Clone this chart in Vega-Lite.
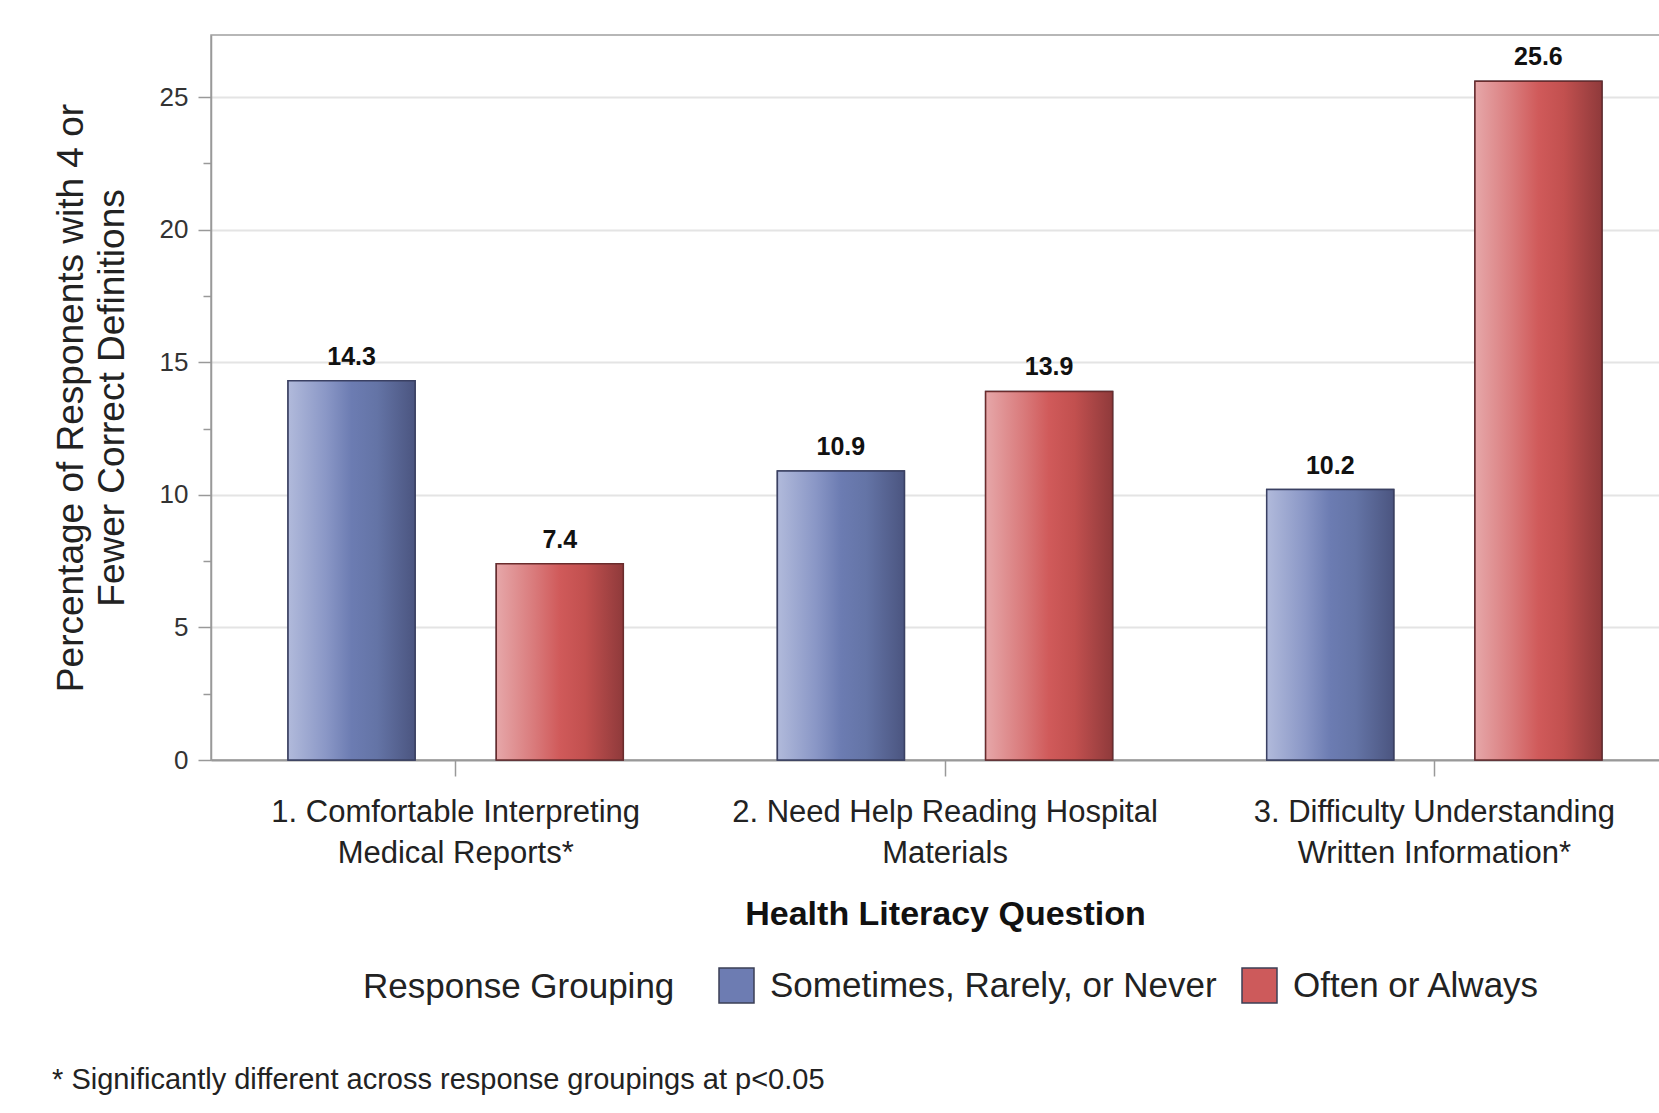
{
  "$schema": "https://vega.github.io/schema/vega-lite/v6.json",
  "width": 1468,
  "height": 725,
  "autosize": {"type": "none"},
  "padding": {"left": 211, "top": 35, "right": -20, "bottom": 353},
  "background": "white",
  "config": {
    "font": "Liberation Sans",
    "view": {"stroke": "#a0a0a0", "strokeWidth": 1.5}
  },
  "data": {
    "values": [
      {"question": "1. Comfortable Interpreting|Medical Reports*", "group": "Sometimes, Rarely, or Never", "pct": 14.3},
      {"question": "1. Comfortable Interpreting|Medical Reports*", "group": "Often or Always", "pct": 7.4},
      {"question": "2. Need Help Reading Hospital|Materials", "group": "Sometimes, Rarely, or Never", "pct": 10.9},
      {"question": "2. Need Help Reading Hospital|Materials", "group": "Often or Always", "pct": 13.9},
      {"question": "3. Difficulty Understanding|Written Information*", "group": "Sometimes, Rarely, or Never", "pct": 10.2},
      {"question": "3. Difficulty Understanding|Written Information*", "group": "Often or Always", "pct": 25.6}
    ]
  },
  "title": {
    "text": "* Significantly different across response groupings at p<0.05",
    "orient": "bottom",
    "anchor": "start",
    "frame": "bounds",
    "fontSize": 29,
    "fontWeight": "normal",
    "color": "#222",
    "offset": 60
  },
  "encoding": {
    "x": {
      "field": "question",
      "type": "nominal",
      "sort": null,
      "scale": {"paddingInner": 0, "paddingOuter": 0},
      "axis": {
        "title": "Health Literacy Question",
        "labelAngle": 0,
        "labelExpr": "split(datum.label, '|')",
        "labelFontSize": 31,
        "labelLineHeight": 41,
        "labelColor": "#222",
        "labelPadding": 21,
        "labelLimit": 700,
        "tickSize": 16,
        "tickColor": "#999",
        "tickWidth": 1.5,
        "domainColor": "#999",
        "domainWidth": 2,
        "titleFontSize": 34,
        "titleFontWeight": "bold",
        "titleColor": "#111",
        "titlePadding": 29
      }
    },
    "xOffset": {
      "field": "group",
      "type": "nominal",
      "sort": ["Sometimes, Rarely, or Never", "Often or Always"],
      "scale": {"paddingInner": 0.39, "paddingOuter": 0.37}
    },
    "y": {
      "field": "pct",
      "type": "quantitative",
      "scale": {"domain": [0, 27.34], "nice": false, "zero": true},
      "axis": {
        "title": ["Percentage of Responents with 4 or", "Fewer Correct Definitions"],
        "values": [0, 2.5, 5, 7.5, 10, 12.5, 15, 17.5, 20, 22.5, 25],
        "labelExpr": "datum.value % 5 === 0 ? datum.label : ''",
        "labelFontSize": 26,
        "labelColor": "#333",
        "labelPadding": 10,
        "tickSize": {"condition": {"test": "datum.value % 5 === 0", "value": 13}, "value": 8},
        "tickColor": "#999",
        "tickWidth": 1.5,
        "domainColor": "#999",
        "domainWidth": 1.5,
        "grid": true,
        "gridColor": "#e4e4e4",
        "gridWidth": 2,
        "gridOpacity": {"condition": {"test": "datum.value % 5 === 0 && datum.value > 0", "value": 1}, "value": 0},
        "titleFontSize": 37,
        "titleFontWeight": "normal",
        "titleColor": "#222",
        "titleLineHeight": 41,
        "titlePadding": 28
      }
    }
  },
  "layer": [
    {
      "mark": {"type": "bar", "stroke": "#3b3f55", "strokeWidth": 1.5},
      "encoding": {
        "color": {
          "field": "group",
          "type": "nominal",
          "sort": ["Sometimes, Rarely, or Never", "Often or Always"],
          "scale": {"domain": ["Sometimes, Rarely, or Never", "Often or Always"], "range": ["#6d7cb2", "#cd5a5b"]},
          "legend": {
            "orient": "none",
            "legendX": 152,
            "legendY": 932,
            "direction": "horizontal",
            "title": "Response Grouping",
            "titleOrient": "left",
            "titleFontSize": 35,
            "titleFontWeight": "normal",
            "titleColor": "#222",
            "titlePadding": 43,
            "titleLimit": 600,
            "labelFontSize": 35,
            "labelColor": "#222",
            "labelOffset": 15,
            "labelLimit": 600,
            "symbolType": "square",
            "symbolSize": 1225,
            "symbolStrokeWidth": 1.5,
            "symbolStrokeColor": "#3b3f55",
            "columnPadding": 22
          }
        }
      }
    },
    {
      "mark": {"type": "bar", "strokeWidth": 1.5},
      "encoding": {
        "fill": {
          "condition": {
            "test": "datum.group === 'Often or Always'",
            "value": {
              "gradient": "linear", "x1": 0, "y1": 0, "x2": 1, "y2": 0,
              "stops": [
                {"offset": 0, "color": "#e6a7a9"},
                {"offset": 0.3, "color": "#d97a7b"},
                {"offset": 0.5, "color": "#d05a5a"},
                {"offset": 0.7, "color": "#c2504f"},
                {"offset": 1, "color": "#8f3a3b"}
              ]
            }
          },
          "value": {
            "gradient": "linear", "x1": 0, "y1": 0, "x2": 1, "y2": 0,
            "stops": [
              {"offset": 0, "color": "#b1badb"},
              {"offset": 0.3, "color": "#8a97c6"},
              {"offset": 0.5, "color": "#6c7cb2"},
              {"offset": 0.7, "color": "#6474a6"},
              {"offset": 1, "color": "#4b5580"}
            ]
          }
        },
        "stroke": {
          "condition": {"test": "datum.group === 'Often or Always'", "value": "#6a2c2d"},
          "value": "#3a4063"
        }
      }
    },
    {
      "mark": {"type": "text", "fontWeight": "bold", "fontSize": 25, "dy": -16, "baseline": "alphabetic", "color": "#111"},
      "encoding": {
        "text": {"field": "pct", "type": "quantitative", "format": ".1f"}
      }
    }
  ]
}
